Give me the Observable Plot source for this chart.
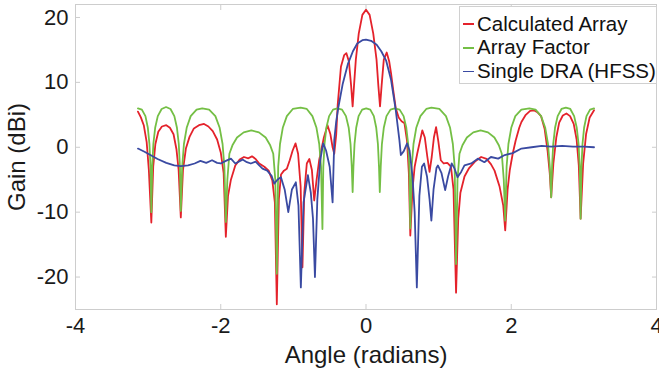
<!DOCTYPE html>
<html>
<head>
<meta charset="utf-8">
<script src="https://cdn.jsdelivr.net/npm/d3@7"></script>
<script src="https://cdn.jsdelivr.net/npm/@observablehq/plot@0.6"></script>
<style>
  html, body { margin: 0; padding: 0; background: #fff; }
  #wrap { position: relative; width: 659px; height: 376px; font-family: "Liberation Sans", Arial, Helvetica, sans-serif; }
  #legend { position: absolute; left: 459px; top: 6px; width: 196px; height: 76px; border: 1px solid #d0d0d0; background: #fff; }
  .row { position: absolute; left: 0; height: 24px; line-height: 24px; font-size: 20.5px; color: #111; white-space: nowrap; }
  .sw { display: inline-block; width: 11px; height: 1.5px; vertical-align: middle; margin-left: 3px; margin-right: 3px; position: relative; top: -1px; }
</style>
</head>
<body>
<div id="wrap"></div>
<script>
// ---- Data ----
const xTicks = [-4, -2, 0, 2, 4];
const yTicks = [-20, -10, 0, 10, 20];
const seriesNames = ["Calculated Array", "Array Factor", "Single DRA (HFSS)"];
const seriesColors = ["#e4222b", "#74bf45", "#3a4aa2"];

// Calculated Array
const calcTheta = [-3.14,-3.10,-3.06,-3.02,-2.99,-2.956,-2.93,-2.90,-2.86,-2.81,-2.75,-2.70,-2.65,-2.61,-2.58,-2.55,-2.52,-2.48,-2.43,-2.37,-2.30,-2.23,-2.17,-2.11,-2.05,-2.00,-1.96,-1.93,-1.90,-1.86,-1.80,-1.74,-1.68,-1.62,-1.57,-1.52,-1.47,-1.40,-1.34,-1.29,-1.255,-1.228,-1.20,-1.17,-1.13,-1.09,-1.05,-1.01,-0.97,-0.935,-0.90,-0.875,-0.85,-0.815,-0.78,-0.745,-0.713,-0.68,-0.645,-0.58,-0.53,-0.49,-0.46,-0.437,-0.41,-0.39,-0.345,-0.30,-0.27,-0.235,-0.205,-0.184,-0.165,-0.14,-0.10,-0.05,0,0.05,0.10,0.145,0.17,0.193,0.215,0.245,0.285,0.32,0.345,0.375,0.41,0.45,0.49,0.53,0.565,0.59,0.61,0.64,0.67,0.705,0.74,0.775,0.81,0.845,0.875,0.905,0.935,0.965,0.995,1.03,1.07,1.12,1.17,1.205,1.24,1.27,1.30,1.356,1.42,1.50,1.586,1.66,1.72,1.77,1.84,1.89,1.917,1.95,1.98,2.02,2.06,2.11,2.14,2.20,2.26,2.31,2.36,2.41,2.46,2.50,2.53,2.55,2.58,2.62,2.66,2.71,2.76,2.81,2.86,2.90,2.93,2.955,2.99,3.03,3.08,3.14];
const calcGain  = [5.5,4.6,3.4,0.8,-3.5,-11.6,-3.0,0.5,2.4,3.2,3.4,3.0,2.0,-0.3,-3.5,-10.8,-3.5,-0.2,1.6,2.9,3.4,3.6,3.2,2.5,1.2,-0.8,-4.0,-13.8,-7.5,-5.0,-2.8,-1.9,-1.5,-1.7,-1.4,-1.8,-2.5,-3.0,-3.6,-5.1,-8.5,-24.2,-8.0,-4.2,-3.6,-3.3,-2.0,-0.5,0.6,-1.0,-6.0,-18.5,-7.0,-2.5,-1.8,-3.5,-8.2,-5.0,-2.0,1.5,3.4,2.0,0.0,-1.0,2.0,6.5,12.4,14.2,14.5,13.2,9.5,6.3,9.5,13.5,17.5,20.4,21.2,20.4,17.5,13.5,9.5,6.3,9.5,13.5,14.6,13.2,11.4,8.8,6.0,4.6,4.0,3.7,1.0,-4.0,-13.6,-6.5,-3.0,-1.0,0.8,2.6,1.5,-1.5,-3.8,-1.5,1.5,3.1,1.0,-2.0,-2.5,-2.4,-3.0,-6.5,-22.4,-11.0,-7.0,-4.5,-3.2,-2.2,-1.5,-1.8,-2.6,-3.6,-6.1,-9.0,-12.8,-6.5,-3.5,-1.0,1.0,3.0,3.9,5.0,5.6,5.7,5.4,4.8,2.8,-0.5,-4.0,-7.7,-2.5,1.5,3.8,4.9,5.2,4.8,3.6,1.2,-2.8,-11.0,-2.5,2.0,4.6,5.7];

// Array Factor
const afTheta = [-3.14,-3.086,-3.037,-3.004,-2.982,-2.967,-2.956,
  -2.944,-2.928,-2.903,-2.867,-2.814,-2.753,-2.692,-2.639,-2.603,-2.578,-2.562,-2.55,
  -2.531,-2.507,-2.469,-2.414,-2.333,-2.255,-2.160,-2.074,-2.015,-1.975,-1.950,-1.93,
  -1.909,-1.881,-1.839,-1.776,-1.684,-1.579,-1.474,-1.382,-1.319,-1.277,-1.249,-1.228,
  -1.209,-1.184,-1.146,-1.090,-1.008,-0.900,-0.815,-0.738,-0.682,-0.644,-0.619,-0.60,
  -0.588,-0.571,-0.546,-0.508,-0.454,-0.395,-0.330,-0.276,-0.238,-0.213,-0.196,-0.184,
  -0.173,-0.158,-0.135,-0.102,-0.053,0.003,0.059,0.108,0.141,0.164,0.179,0.19,
  0.203,0.219,0.245,0.282,0.337,0.395,0.463,0.518,0.555,0.581,0.597,0.61,
  0.629,0.654,0.692,0.749,0.830,0.900,1.010,1.101,1.158,1.196,1.221,1.24,
  1.26,1.287,1.328,1.389,1.477,1.578,1.680,1.768,1.829,1.870,1.897,1.917,
  1.936,1.961,2.000,2.056,2.139,2.250,2.335,2.411,2.468,2.506,2.531,2.55,
  2.562,2.578,2.603,2.639,2.692,2.752,2.813,2.866,2.902,2.927,2.943,2.955,
  2.967,2.981,3.003,3.036,3.085,3.14];
const afGain = [6.0,5.8,4.8,3.0,0.5,-3.0,-10.0,
  -3.0,0.5,3.0,4.8,5.9,6.2,5.9,4.8,3.0,0.5,-3.0,-9.8,
  -3.0,0.5,3.0,4.8,5.8,6.0,5.8,4.8,3.0,0.5,-3.0,-11.5,
  -5.0,-1.0,0.3,1.5,2.3,2.6,2.3,1.5,0.3,-1.0,-5.0,-19.5,
  -3.0,0.5,3.0,4.8,5.9,6.1,5.9,4.8,3.0,0.5,-3.0,-12.6,
  -3.0,0.5,3.0,4.8,5.8,6.0,5.8,4.8,3.0,0.5,-3.0,-6.9,
  -3.0,0.5,3.0,4.8,5.8,6.0,5.8,4.8,3.0,0.5,-3.0,-6.9,
  -3.0,0.5,3.0,4.8,5.8,6.0,5.8,4.8,3.0,0.5,-3.0,-12.5,
  -3.0,0.5,3.0,4.8,5.9,6.1,5.9,4.8,3.0,0.5,-3.0,-18.0,
  -5.0,-1.0,0.3,1.5,2.3,2.6,2.3,1.5,0.3,-1.0,-5.0,-11.3,
  -3.0,0.5,3.0,4.8,5.8,6.0,5.8,4.8,3.0,0.5,-3.0,-7.7,
  -3.0,0.5,3.0,4.8,5.9,6.1,5.9,4.8,3.0,0.5,-3.0,-11.0,
  -3.0,0.5,3.0,4.8,5.8,6.0];

// Single DRA (HFSS)
const draTheta = [-3.14,-3.05,-2.95,-2.87,-2.75,-2.64,-2.55,-2.45,-2.36,-2.28,-2.20,-2.12,-2.05,-2.00,-1.93,-1.86,-1.80,-1.70,-1.64,-1.586,-1.52,-1.47,-1.425,-1.36,-1.30,-1.264,-1.22,-1.172,-1.12,-1.07,-1.02,-0.966,-0.93,-0.897,-0.86,-0.80,-0.76,-0.73,-0.703,-0.67,-0.63,-0.59,-0.55,-0.50,-0.46,-0.437,-0.41,-0.38,-0.32,-0.25,-0.18,-0.12,-0.05,0.0,0.07,0.147,0.21,0.276,0.345,0.41,0.46,0.48,0.52,0.566,0.60,0.64,0.67,0.70,0.735,0.77,0.80,0.84,0.875,0.90,0.93,0.97,0.99,1.04,1.09,1.13,1.18,1.22,1.26,1.31,1.356,1.45,1.54,1.63,1.72,1.82,1.91,2.02,2.14,2.28,2.42,2.55,2.70,2.85,3.00,3.14];
const draGain  = [-0.2,-0.7,-1.3,-1.8,-2.4,-2.8,-2.9,-2.8,-2.5,-2.1,-2.4,-2.0,-2.4,-2.5,-2.1,-1.75,-2.5,-1.9,-2.3,-2.5,-2.2,-2.8,-3.3,-3.6,-4.4,-5.6,-5.0,-4.6,-6.5,-10.0,-6.5,-5.4,-9.0,-21.6,-8.5,-4.3,-7.0,-11.0,-20.0,-8.0,-2.0,0.6,-0.5,-3.0,-8.5,1.1,4.0,6.2,9.8,12.8,14.8,16.0,16.5,16.6,16.4,15.8,14.8,13.4,10.4,5.7,1.1,-1.2,-0.6,0.6,-0.5,-4.5,-10.0,-21.6,-7.5,-3.0,-2.5,-4.5,-8.0,-11.3,-6.5,-3.2,-2.8,-4.0,-6.6,-4.5,-2.5,-3.3,-4.6,-3.8,-2.8,-2.5,-1.75,-2.3,-1.5,-1.75,-1.2,-0.9,-0.2,0.0,0.2,0.1,0.2,0.1,0.1,0.0];

// ---- Build rows ----
const rows = [];
calcTheta.forEach((t, i) => rows.push({series: seriesNames[0], theta: t, gain: calcGain[i]}));
afTheta.forEach((t, i) => rows.push({series: seriesNames[1], theta: t, gain: afGain[i]}));
draTheta.forEach((t, i) => rows.push({series: seriesNames[2], theta: t, gain: draGain[i]}));

const frameColor = "#cdcdcd";
const fmt = d => String(d);

const chart = Plot.plot({
  width: 659,
  height: 376,
  marginLeft: 75,
  marginRight: 3,
  marginTop: 4,
  marginBottom: 67,
  style: {fontFamily: "'Liberation Sans', Arial, Helvetica, sans-serif", color: "#1a1a1a", background: "#fff"},
  x: {domain: [-4, 4]},
  y: {domain: [-25, 22]},
  color: {domain: seriesNames, range: seriesColors},
  marks: [
    Plot.frame({stroke: frameColor}),
    // inward tick marks on all four sides
    Plot.axisX({ticks: xTicks, tickSize: 5, dy: -5, fill: "none", stroke: frameColor, label: null}),
    Plot.axisX({anchor: "top", ticks: xTicks, tickSize: 5, dy: 5, fill: "none", stroke: frameColor, label: null}),
    Plot.axisY({ticks: yTicks, tickSize: 5, dx: 5, fill: "none", stroke: frameColor, label: null}),
    Plot.axisY({anchor: "right", ticks: yTicks, tickSize: 5, dx: -5, fill: "none", stroke: frameColor, label: null}),
    // tick labels
    Plot.axisX({ticks: xTicks, tickSize: 0, tickPadding: 8, tickFormat: fmt, fontSize: 22, label: null}),
    Plot.axisY({ticks: yTicks, tickSize: 0, tickPadding: 7, tickFormat: fmt, fontSize: 22, label: null}),
    // axis titles
    Plot.axisX({ticks: [], tickSize: 0, label: "Angle (radians)", labelAnchor: "center", labelArrow: "none", labelOffset: 53, fontSize: 24}),
    Plot.axisY({ticks: [], tickSize: 0, label: "Gain (dBi)", labelAnchor: "center", labelArrow: "none", labelOffset: 68, fontSize: 24}),
    // data lines, drawn in legend order
    Plot.line(rows.filter(d => d.series === seriesNames[0]), {x: "theta", y: "gain", stroke: "series", strokeWidth: 1.8}),
    Plot.line(rows.filter(d => d.series === seriesNames[1]), {x: "theta", y: "gain", stroke: "series", strokeWidth: 1.8}),
    Plot.line(rows.filter(d => d.series === seriesNames[2]), {x: "theta", y: "gain", stroke: "series", strokeWidth: 1.8})
  ]
});

const wrap = document.getElementById("wrap");
wrap.appendChild(chart);

// legend box inside the plot, top right
const legend = document.createElement("div");
legend.id = "legend";
seriesNames.forEach((name, i) => {
  const row = document.createElement("div");
  row.className = "row";
  row.style.top = (4.5 + 23.7 * i) + "px";
  const sw = document.createElement("span");
  sw.className = "sw";
  sw.style.background = seriesColors[i];
  row.appendChild(sw);
  row.appendChild(document.createTextNode(name));
  legend.appendChild(row);
});
wrap.appendChild(legend);
</script>
</body>
</html>
